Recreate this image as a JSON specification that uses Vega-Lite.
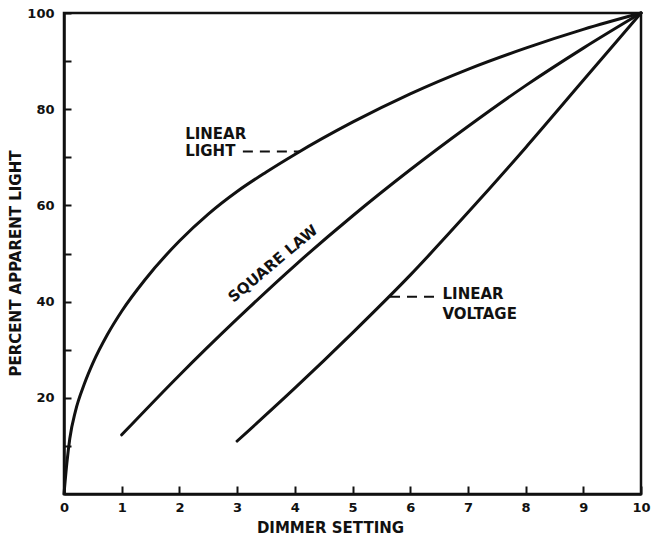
{
  "$schema": "https://vega.github.io/schema/vega-lite/v6.json",
  "width": 577,
  "height": 481,
  "autosize": {"type": "none"},
  "padding": {"left": 64, "top": 13, "right": 10, "bottom": 42},
  "background": "white",
  "config": {
    "font": "DejaVu Sans",
    "view": {"stroke": "#111111", "strokeWidth": 2.5}
  },
  "datasets": {
    "curves": [
      {"series": "Linear light", "x": 0, "y": 0},
      {"series": "Linear light", "x": 0.05, "y": 6.5},
      {"series": "Linear light", "x": 0.1, "y": 11.5},
      {"series": "Linear light", "x": 0.2, "y": 17.3},
      {"series": "Linear light", "x": 0.35, "y": 22.8},
      {"series": "Linear light", "x": 0.5, "y": 27.2},
      {"series": "Linear light", "x": 0.75, "y": 33.1},
      {"series": "Linear light", "x": 1, "y": 38},
      {"series": "Linear light", "x": 1.4, "y": 44.5},
      {"series": "Linear light", "x": 2, "y": 52.6},
      {"series": "Linear light", "x": 2.5, "y": 58.2},
      {"series": "Linear light", "x": 3, "y": 62.9},
      {"series": "Linear light", "x": 3.5, "y": 66.9},
      {"series": "Linear light", "x": 4, "y": 70.6},
      {"series": "Linear light", "x": 5, "y": 77.3},
      {"series": "Linear light", "x": 6, "y": 83.2},
      {"series": "Linear light", "x": 7, "y": 88.3},
      {"series": "Linear light", "x": 8, "y": 92.7},
      {"series": "Linear light", "x": 9, "y": 96.6},
      {"series": "Linear light", "x": 10, "y": 100},
      {"series": "Square law", "x": 1, "y": 12.3},
      {"series": "Square law", "x": 2, "y": 24.7},
      {"series": "Square law", "x": 3, "y": 36.4},
      {"series": "Square law", "x": 4, "y": 47.5},
      {"series": "Square law", "x": 5, "y": 57.8},
      {"series": "Square law", "x": 6, "y": 67.4},
      {"series": "Square law", "x": 7, "y": 76.4},
      {"series": "Square law", "x": 8, "y": 84.9},
      {"series": "Square law", "x": 9, "y": 92.7},
      {"series": "Square law", "x": 10, "y": 100},
      {"series": "Linear voltage", "x": 3, "y": 11},
      {"series": "Linear voltage", "x": 4, "y": 22},
      {"series": "Linear voltage", "x": 5, "y": 33.5},
      {"series": "Linear voltage", "x": 6, "y": 45.5},
      {"series": "Linear voltage", "x": 7, "y": 58.5},
      {"series": "Linear voltage", "x": 8, "y": 72},
      {"series": "Linear voltage", "x": 9, "y": 86},
      {"series": "Linear voltage", "x": 10, "y": 100}
    ],
    "pointers": [
      {"id": "light", "x": 4.08, "y": 71.2},
      {"id": "light", "x": 3.1, "y": 71.2},
      {"id": "voltage", "x": 5.65, "y": 41.0},
      {"id": "voltage", "x": 6.48, "y": 41.0}
    ],
    "labels": [
      {"text": "LINEAR", "x": 2.1, "y": 74.9},
      {"text": "LIGHT", "x": 2.1, "y": 71.3},
      {"text": "LINEAR", "x": 6.56, "y": 41.6},
      {"text": "VOLTAGE", "x": 6.56, "y": 37.4}
    ],
    "rotated": [
      {"text": "SQUARE LAW", "x": 3.62, "y": 47.9}
    ]
  },
  "layer": [
    {
      "data": {"name": "curves"},
      "mark": {"type": "line", "color": "#111111", "strokeWidth": 3, "interpolate": "monotone", "strokeCap": "round"},
      "encoding": {
        "x": {
          "field": "x", "type": "quantitative",
          "scale": {"domain": [0, 10], "nice": false, "zero": false},
          "axis": {
            "values": [0, 1, 2, 3, 4, 5, 6, 7, 8, 9, 10],
            "format": "d",
            "grid": false,
            "tickSize": -8, "tickWidth": 2, "tickColor": "#111111",
            "domainColor": "#111111", "domainWidth": 2.5,
            "labelFont": "DejaVu Sans", "labelFontWeight": "bold", "labelFontSize": 13,
            "labelColor": "#111111", "labelPadding": 15, "labelFlush": false, "labelOverlap": false,
            "title": "DIMMER SETTING",
            "titleFont": "DejaVu Sans", "titleFontSize": 15, "titleFontWeight": "bold", "titleColor": "#111111",
            "titleX": 266, "titleY": 33, "titleAlign": "center", "titleBaseline": "middle", "titleAnchor": null
          }
        },
        "y": {
          "field": "y", "type": "quantitative",
          "scale": {"domain": [0, 100], "nice": false, "zero": false},
          "axis": {
            "values": [10, 20, 30, 40, 50, 60, 70, 80, 90, 100],
            "format": "d",
            "labelExpr": "datum.value % 20 === 0 ? datum.label : ''",
            "grid": false,
            "tickSize": -7, "tickWidth": 2, "tickColor": "#111111",
            "domainColor": "#111111", "domainWidth": 2.5,
            "labelFont": "DejaVu Sans", "labelFontWeight": "bold", "labelFontSize": 13,
            "labelColor": "#111111", "labelPadding": 17, "labelFlush": false, "labelOverlap": false,
            "title": "PERCENT APPARENT LIGHT",
            "titleFont": "DejaVu Sans", "titleFontSize": 15, "titleFontWeight": "bold", "titleColor": "#111111",
            "titleX": -49, "titleY": 250, "titleAngle": -90, "titleAlign": "center", "titleBaseline": "middle", "titleAnchor": null
          }
        },
        "detail": {"field": "series", "type": "nominal"}
      }
    },
    {
      "data": {"name": "pointers"},
      "mark": {"type": "line", "color": "#111111", "strokeWidth": 2, "strokeDash": [10, 7]},
      "encoding": {
        "x": {"field": "x", "type": "quantitative"},
        "y": {"field": "y", "type": "quantitative"},
        "detail": {"field": "id", "type": "nominal"}
      }
    },
    {
      "data": {"name": "labels"},
      "mark": {"type": "text", "align": "left", "baseline": "middle", "font": "DejaVu Sans", "fontSize": 15, "fontWeight": "bold", "color": "#111111"},
      "encoding": {
        "x": {"field": "x", "type": "quantitative"},
        "y": {"field": "y", "type": "quantitative"},
        "text": {"field": "text", "type": "nominal"}
      }
    },
    {
      "data": {"name": "rotated"},
      "mark": {"type": "text", "align": "center", "baseline": "middle", "angle": -40, "font": "DejaVu Sans", "fontSize": 15, "fontWeight": "bold", "color": "#111111"},
      "encoding": {
        "x": {"field": "x", "type": "quantitative"},
        "y": {"field": "y", "type": "quantitative"},
        "text": {"field": "text", "type": "nominal"}
      }
    }
  ]
}
